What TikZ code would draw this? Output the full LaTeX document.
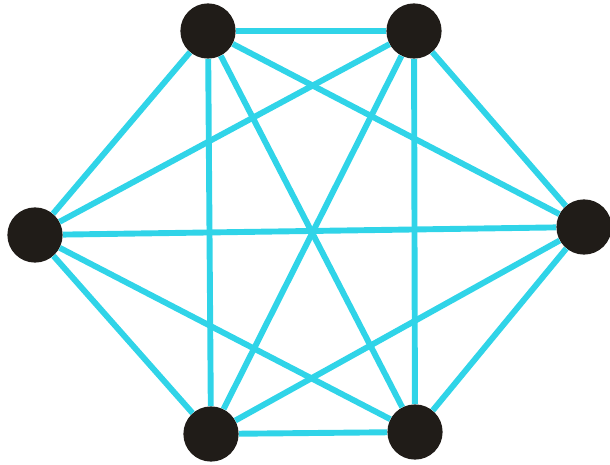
\documentclass[tikz,border=0pt]{standalone}
\usepackage{xcolor}
\definecolor{edgecyan}{RGB}{48,212,232}
\definecolor{dotblack}{RGB}{32,28,24}

\begin{document}
\begin{tikzpicture}[x=0.025cm, y=-0.025cm, vtx/.style={circle, fill=dotblack, minimum size=1.38cm, inner sep=0pt}, edge/.style={draw=edgecyan, line width=4.2pt}]
\useasboundingbox (0,0) rectangle (610,465);
\node[vtx] (a) at (208,31) {};
\node[vtx] (b) at (414,31) {};
\node[vtx] (c) at (584,227) {};
\node[vtx] (d) at (415,432) {};
\node[vtx] (e) at (211,434) {};
\node[vtx] (f) at (35,235) {};
\draw[edge] (a) -- (b) -- (c) -- (d) -- (e) -- (f) -- (a);
\draw[edge] (a) -- (c);
\draw[edge] (a) -- (d);
\draw[edge] (a) -- (e);
\draw[edge] (b) -- (d);
\draw[edge] (b) -- (e);
\draw[edge] (b) -- (f);
\draw[edge] (c) -- (e);
\draw[edge] (c) -- (f);
\draw[edge] (d) -- (f);
\end{tikzpicture}
\end{document}
